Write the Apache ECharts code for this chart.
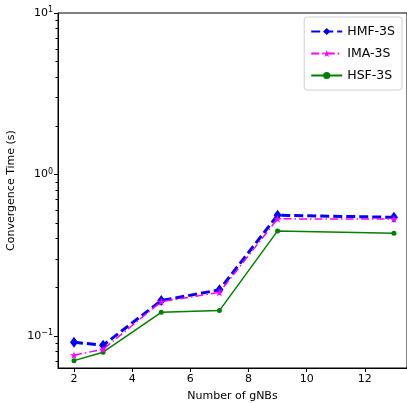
<!DOCTYPE html>
<html>
<head>
<meta charset="utf-8">
<script src="https://cdn.jsdelivr.net/npm/echarts@6/dist/echarts.min.js"></script>
<style>html,body{margin:0;padding:0;background:#fff}#c{width:407px;height:403px}</style>
</head>
<body>
<div id="c"></div>
<script>
const gnbs = [2, 3, 5, 7, 9, 13];
const hmf = [0.0914, 0.0875, 0.1655, 0.193, 0.559, 0.543];
const ima = [0.076, 0.0826, 0.163, 0.186, 0.531, 0.53];
const hsf = [0.0703, 0.0793, 0.140, 0.1435, 0.447, 0.432];
const xTicks = [2, 4, 6, 8, 10, 12];
const yMajor = [0.1, 1, 10];
const yMinor = [0.07, 0.08, 0.09, 0.2, 0.3, 0.4, 0.5, 0.6, 0.7, 0.8, 0.9, 2, 3, 4, 5, 6, 7, 8, 9];
const seriesNames = ['HMF-3S', 'IMA-3S', 'HSF-3S'];

const font = 'DejaVu Sans';
function pairs(arr) { return gnbs.map((g, i) => [g, arr[i]]); }
const supMap = {'1': '1', '0': '0', '-1': '\u22121'};

const chart = echarts.init(document.getElementById('c'));
chart.setOption({
  animation: false,
  textStyle: {fontFamily: font},
  grid: {left: 58, right: 0, top: 13, bottom: 35, show: true, borderColor: '#000', borderWidth: 1,
         backgroundColor: 'transparent', outerBoundsMode: 'none', containLabel: false},
  legend: {
    orient: 'vertical', right: 5, top: 17,
    itemWidth: 31, itemHeight: 9, itemGap: 9,
    padding: [8, 7, 8, 6],
    borderColor: '#d0d0d0', borderWidth: 1, borderRadius: 3, backgroundColor: '#fff',
    textStyle: {fontFamily: font, fontSize: 12.5, color: '#000'},
    data: seriesNames
  },
  xAxis: {
    type: 'value', min: 1.45, max: 13.45,
    name: 'Number of gNBs', nameLocation: 'middle', nameGap: 23,
    nameTextStyle: {fontFamily: font, fontSize: 11, color: '#000'},
    axisLine: {show: true, lineStyle: {color: '#000', width: 1}},
    axisTick: {show: true, length: 4, customValues: xTicks, lineStyle: {color: '#000'}},
    axisLabel: {customValues: xTicks, fontFamily: font, fontSize: 11, color: '#000', margin: 6},
    splitLine: {show: false}
  },
  yAxis: [{
    type: 'log', logBase: 10, min: 0.0633, max: 10,
    name: 'Convergence Time (s)', nameLocation: 'middle', nameGap: 38,
    nameTextStyle: {fontFamily: font, fontSize: 11, color: '#000'},
    axisLine: {show: true, lineStyle: {color: '#000', width: 1}},
    axisTick: {show: true, length: 4, customValues: yMajor, lineStyle: {color: '#000'}},
    axisLabel: {
      customValues: yMajor, fontFamily: font, fontSize: 11, color: '#000', margin: 5,
      formatter: v => '10{s|' + supMap[String(Math.round(Math.log10(v)))] + '}',
      rich: {s: {fontSize: 8, verticalAlign: 'top', padding: [0, 0, 6, 0], fontFamily: font, color: '#000'}}
    },
    splitLine: {show: false}
  }, {
    type: 'log', logBase: 10, min: 0.0633, max: 10, position: 'left',
    axisLine: {show: false},
    axisTick: {show: true, length: 2.5, customValues: yMinor, lineStyle: {color: '#000'}},
    axisLabel: {show: false},
    splitLine: {show: false}
  }],
  series: [{
    name: seriesNames[0], type: 'line', data: pairs(hmf),
    symbol: 'diamond', symbolSize: [8, 11],
    lineStyle: {color: '#0000ff', width: 3, type: [9, 4]},
    itemStyle: {color: '#0000ff'}, z: 3
  }, {
    name: seriesNames[1], type: 'line', data: pairs(ima),
    symbol: 'path://M0,-1L0.2245,-0.309L0.951,-0.309L0.363,0.118L0.588,0.809L0,0.382L-0.588,0.809L-0.363,0.118L-0.951,-0.309L-0.2245,-0.309Z',
    symbolSize: 8,
    lineStyle: {color: '#ff00ff', width: 1.5, type: [8, 3, 1.5, 3]},
    itemStyle: {color: '#ff00ff'}, z: 4
  }, {
    name: seriesNames[2], type: 'line', data: pairs(hsf),
    symbol: 'circle', symbolSize: 5,
    lineStyle: {color: '#008000', width: 1.5},
    itemStyle: {color: '#008000'}, z: 2
  }]
});
</script>
</body>
</html>
